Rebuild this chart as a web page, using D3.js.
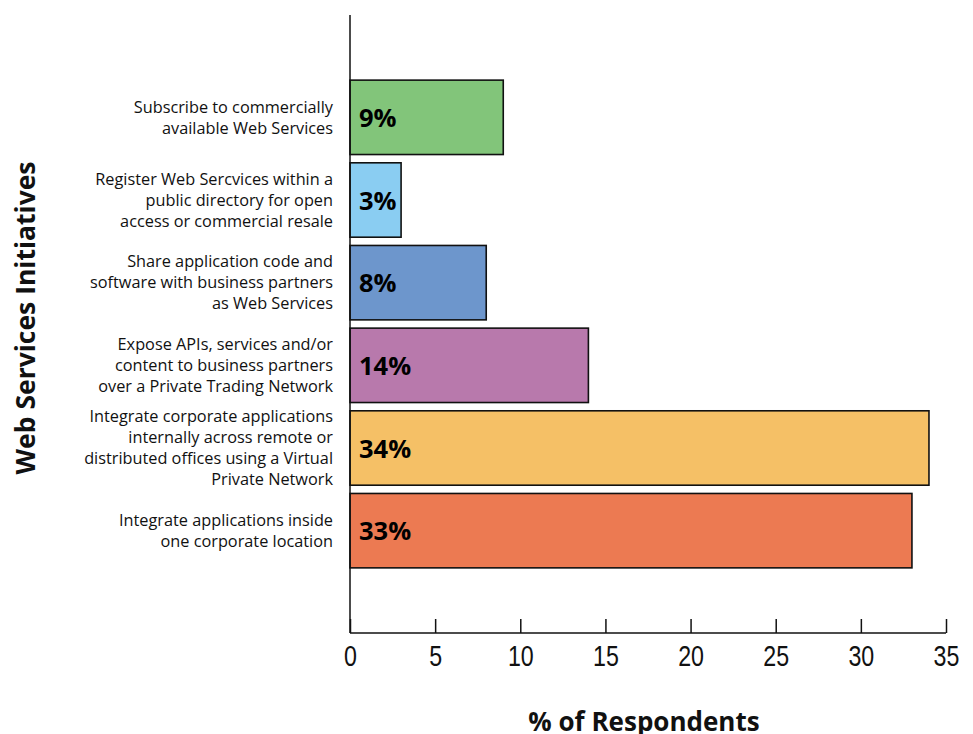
<!DOCTYPE html>
<html>
<head>
<meta charset="utf-8">
<script src="https://cdn.jsdelivr.net/npm/d3@7"></script>
<style>
  body { margin: 0; background: #fff; }
  svg { display: block; }
</style>
</head>
<body>
<svg id="chart" width="973" height="734"></svg>
<script>
// Web services initiatives, share of respondents (%)
const categories = [
  ["Subscribe to commercially", "available Web Services"],
  ["Register Web Sercvices within a", "public directory for open", "access or commercial resale"],
  ["Share application code and", "software with business partners", "as Web Services"],
  ["Expose APIs, services and/or", "content to business partners", "over a Private Trading Network"],
  ["Integrate corporate applications", "internally across remote or", "distributed offices using a Virtual", "Private Network"],
  ["Integrate applications inside", "one corporate location"]
];
const values = [9, 3, 8, 14, 34, 33];
const barColors = ["#82c57a", "#8acdf2", "#6d96cc", "#b879ac", "#f5c066", "#ec7a52"];
const xTicks = [0, 5, 10, 15, 20, 25, 30, 35];
const xTitle = "% of Respondents";
const yTitle = "Web Services Initiatives";

const svg = d3.select("#chart");
const plotLeft = 350, plotRight = 946, plotTop = 15, plotBottom = 633;

const x = d3.scaleLinear().domain([0, 35]).range([plotLeft, plotRight]);
const y = d3.scaleBand()
  .domain(d3.range(values.length))
  .range([76, 572])
  .paddingInner(0.1)
  .paddingOuter(0.05);

const labelFont = "'Open Sans', 'Noto Sans', sans-serif";

// bars
svg.append("g").selectAll("rect")
  .data(values)
  .join("rect")
  .attr("x", x(0))
  .attr("y", (d, i) => y(i))
  .attr("width", d => x(d) - x(0))
  .attr("height", y.bandwidth())
  .attr("fill", (d, i) => barColors[i])
  .attr("stroke", "#111")
  .attr("stroke-width", 1.6);

// value labels inside bars
svg.append("g").selectAll("text")
  .data(values)
  .join("text")
  .attr("x", x(0) + 9)
  .attr("y", (d, i) => y(i) + y.bandwidth() / 2)
  .attr("dy", "0.38em")
  .attr("font-family", labelFont)
  .attr("font-weight", 700)
  .attr("font-size", 25.5)
  .attr("fill", "#000")
  .text(d => d + "%");

// category labels, multi-line, right-aligned
const lineH = 21;
const catG = svg.append("g");
categories.forEach((lines, i) => {
  const cy = y(i) + y.bandwidth() / 2;
  const t = catG.append("text")
    .attr("text-anchor", "end")
    .attr("font-family", labelFont)
    .attr("font-size", 16.3)
    .attr("fill", "#111");
  lines.forEach((ln, j) => {
    t.append("tspan")
      .attr("x", 333)
      .attr("y", cy + (j - (lines.length - 1) / 2) * lineH)
      .attr("dy", "0.35em")
      .text(ln);
  });
});

// axes
const axisG = svg.append("g").attr("stroke", "#111").attr("stroke-width", 1.5);
axisG.append("line").attr("x1", plotLeft).attr("x2", plotLeft).attr("y1", plotTop).attr("y2", plotBottom);
axisG.append("line").attr("x1", plotLeft).attr("x2", plotRight).attr("y1", plotBottom).attr("y2", plotBottom);

const xAxis = d3.axisBottom(x).tickValues(xTicks).tickSizeInner(-14).tickSizeOuter(0).tickPadding(12.5);
const gx = svg.append("g").attr("transform", `translate(0,${plotBottom})`).call(xAxis);
gx.select(".domain").remove();
gx.selectAll(".tick line").attr("stroke", "#111").attr("stroke-width", 1.5);
gx.selectAll(".tick text")
  .attr("font-family", "'Liberation Sans', Arial, sans-serif")
  .attr("font-size", 29)
  .attr("transform", "scale(0.8,1)")
  .attr("fill", "#111");

// axis titles
svg.append("text")
  .attr("x", 644)
  .attr("y", 731)
  .attr("text-anchor", "middle")
  .attr("font-family", labelFont)
  .attr("font-weight", 700)
  .attr("font-size", 26)
  .attr("fill", "#111")
  .text(xTitle);

svg.append("text")
  .attr("transform", "translate(35,318) rotate(-90)")
  .attr("text-anchor", "middle")
  .attr("font-family", labelFont)
  .attr("font-weight", 700)
  .attr("font-size", 26.5)
  .attr("fill", "#111")
  .text(yTitle);
</script>
</body>
</html>
